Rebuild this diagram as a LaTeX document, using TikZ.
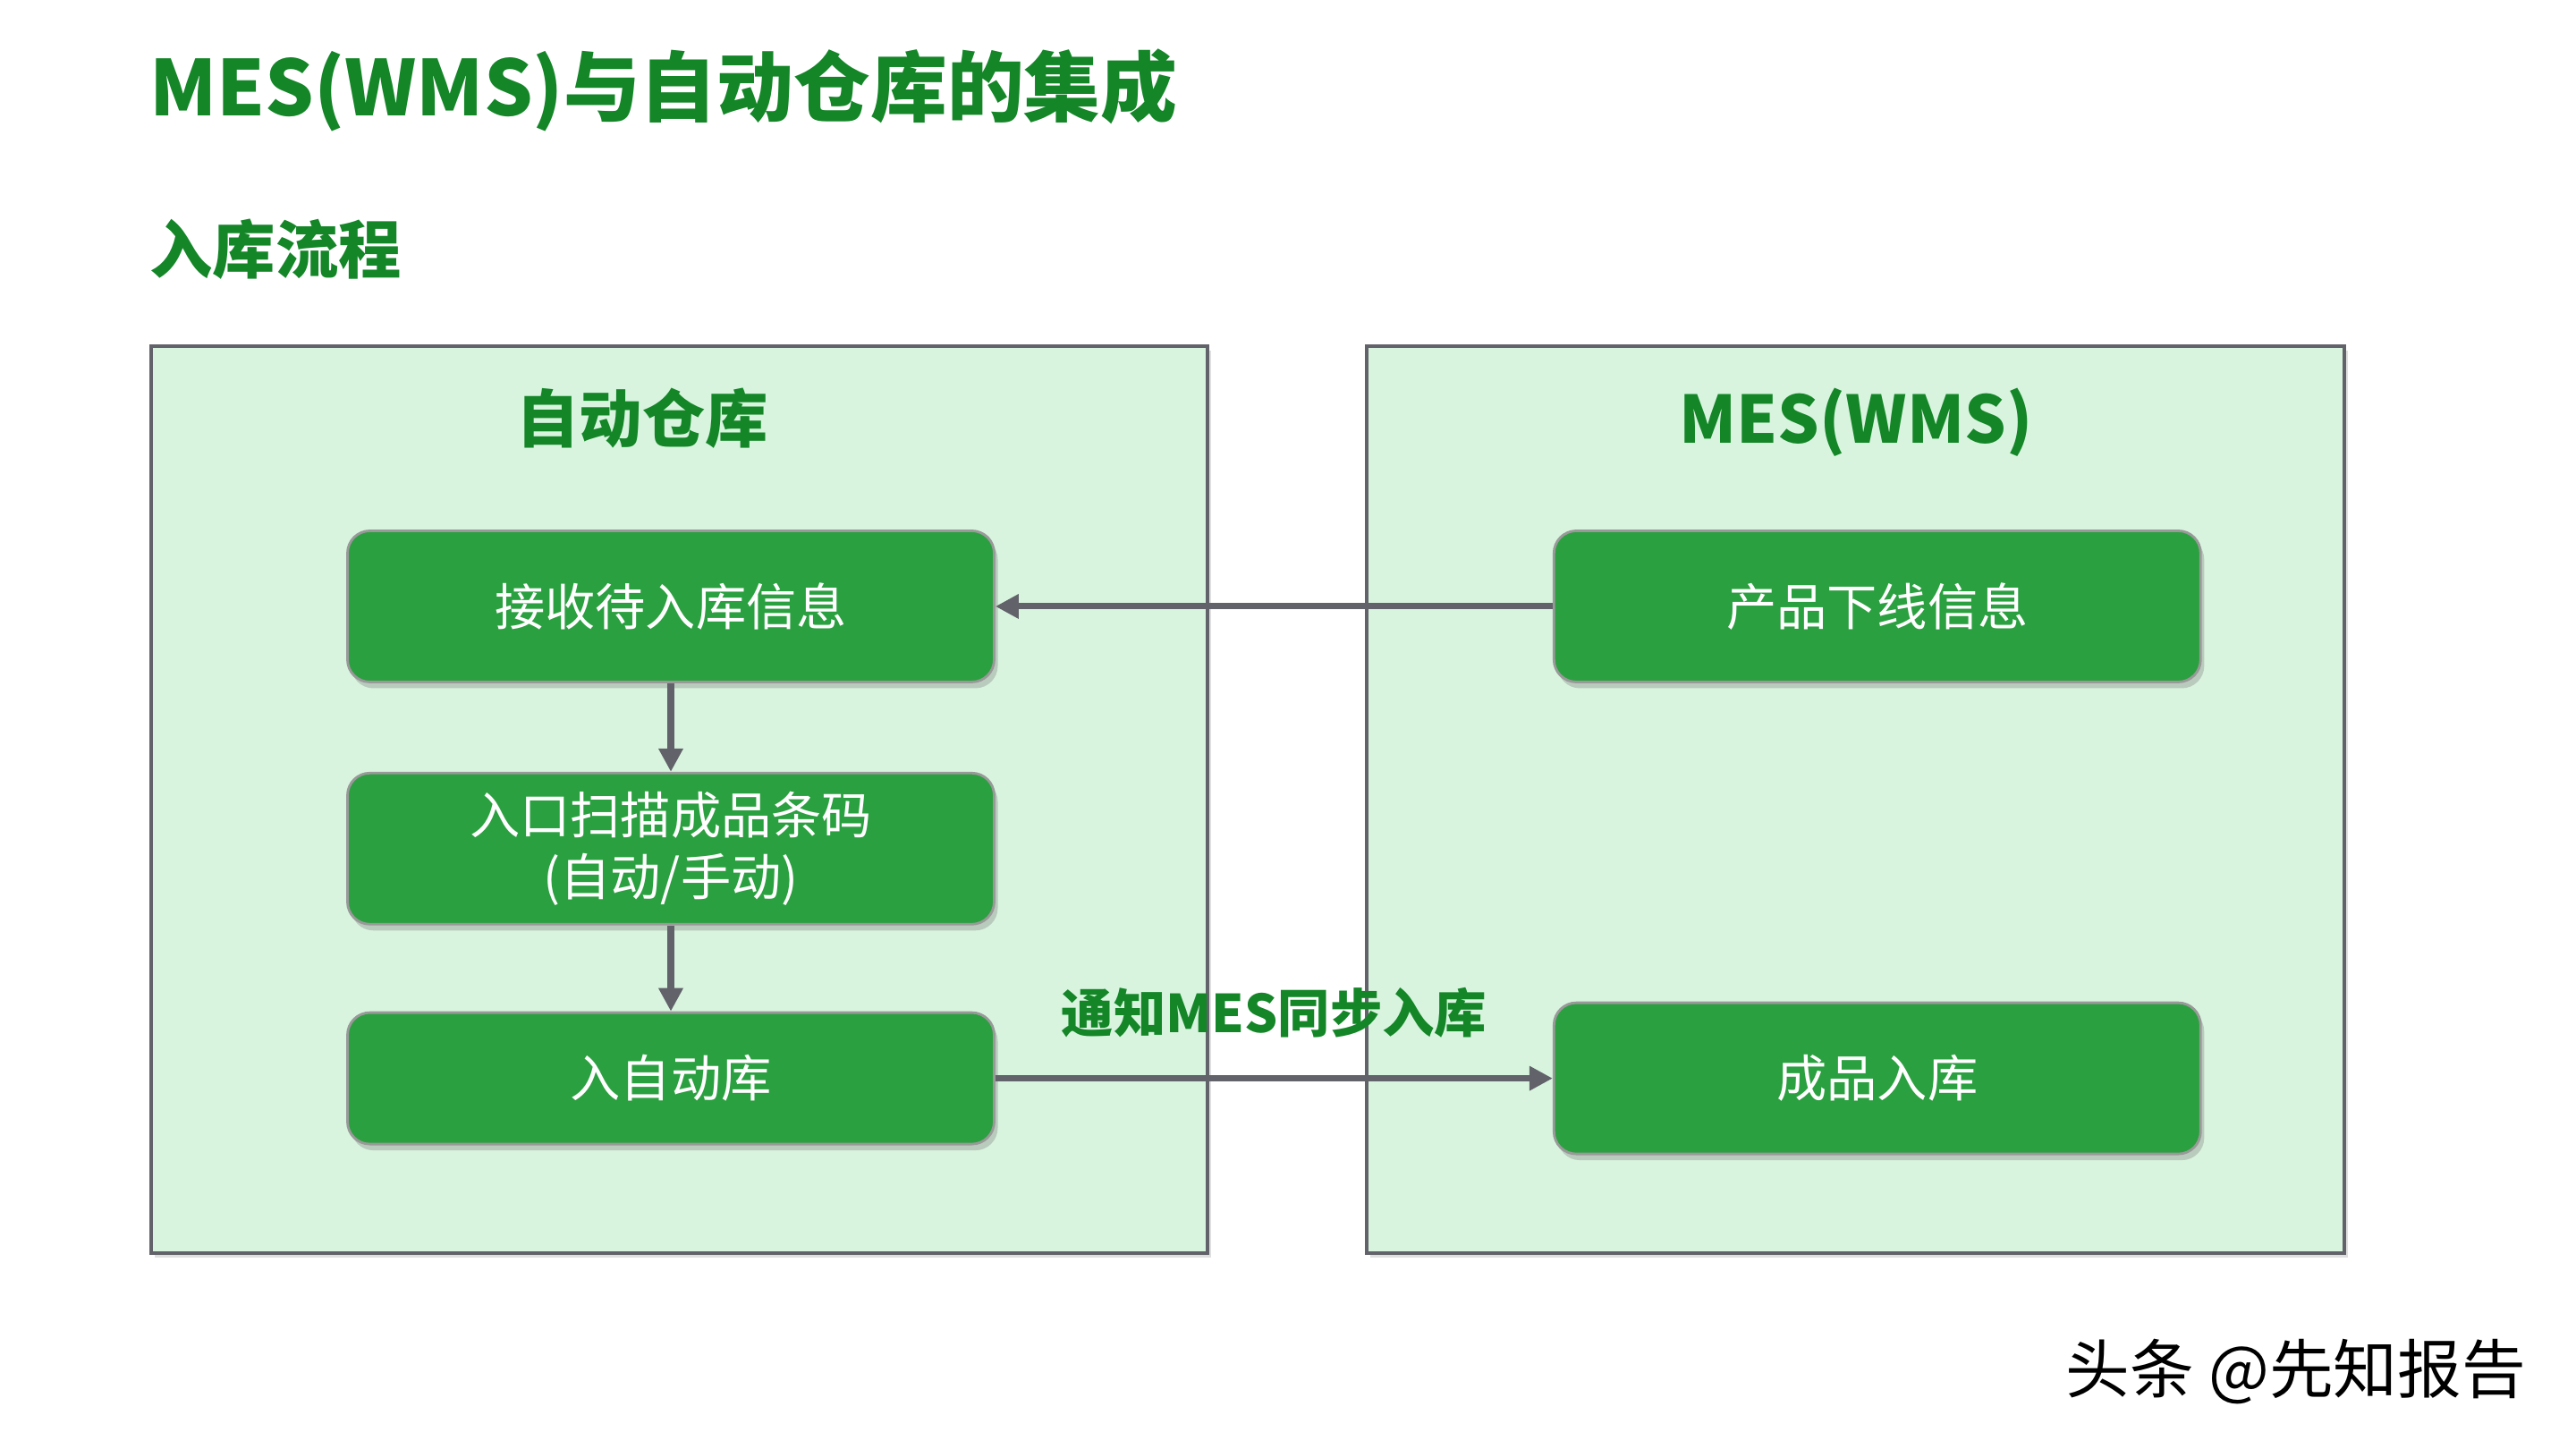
\documentclass[tikz,border=0pt]{standalone}
\usepackage{fontspec}
\setmainfont{Noto Sans CJK SC}
\usetikzlibrary{positioning, arrows.meta, shadows}
\definecolor{titlegreen}{RGB}{20,134,40}
\definecolor{panelfill}{RGB}{216,244,222}
\definecolor{boxgreen}{RGB}{43,160,64}
\definecolor{linegray}{RGB}{98,98,106}

\begin{document}
\begin{tikzpicture}[
  panel/.style={draw=linegray, line width=0.9pt, fill=panelfill,
    drop shadow={opacity=0.25, shadow xshift=0.04, shadow yshift=-0.05}},
  stepbox/.style={draw=black!40, line width=0.8pt, fill=boxgreen, rounded corners=0.25cm,
    minimum width=7.23cm, minimum height=1.69cm, text=white, align=center,
    font=\fontsize{16}{19.5}\selectfont,
    drop shadow={opacity=0.35, shadow xshift=0.04, shadow yshift=-0.07}},
  heading/.style={text=titlegreen, font=\bfseries\fontsize{20}{24}\selectfont},
  flow/.style={linegray, line width=2pt, -{Triangle[length=0.26cm, width=0.26cm]}}
]
  \fill[white] (0,0) rectangle (28.8,16.2);
  \useasboundingbox (0,0) rectangle (28.8,16.2);

  % titles
  \node[anchor=west, text=titlegreen, font=\bfseries\fontsize{24.4}{28}\selectfont] (title) at (1.55,15.19) {MES(WMS)与自动仓库的集成};
  \node[anchor=west, heading] (subtitle) at (1.55,13.41) {入库流程};

  % the two systems
  \draw[panel] (1.69,12.33) rectangle (13.50,2.19);
  \draw[panel] (15.28,12.33) rectangle (26.21,2.19);
  \node[heading] (warehouse) at (7.18,11.52) {自动仓库};
  \node[heading, font=\bfseries\fontsize{20.8}{24}\selectfont] (mes) at (20.75,11.48) {MES(WMS)};

  % steps
  \node[stepbox] (receive) at (7.50,9.42) {接收待入库信息};
  \node[stepbox, below=0.99cm of receive] (scan) {入口扫描成品条码\\(自动/手动)};
  \node[stepbox, below=0.96cm of scan, minimum height=1.47cm] (store) {入自动库};
  \node[stepbox, right=6.23cm of receive] (offline) {产品下线信息};
  \node[stepbox, right=6.23cm of store, minimum height=1.69cm] (finished) {成品入库};

  \draw[flow] (offline) -- (receive);
  \draw[flow] (receive) -- (scan);
  \draw[flow] (scan) -- (store);
  \draw[flow] (store) -- (finished)
    node[midway, above=0.3cm, text=titlegreen, font=\bfseries\fontsize{16.6}{20}\selectfont] (sync) {通知MES同步入库};

  \node[font=\fontsize{20.4}{24}\selectfont] (mark) at (25.67,0.86) {头条 @先知报告};
\end{tikzpicture}
\end{document}
